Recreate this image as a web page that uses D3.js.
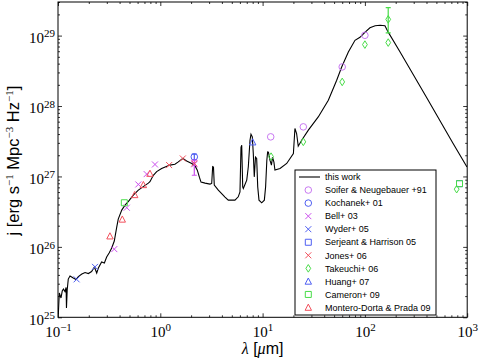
<!DOCTYPE html>
<html>
<head>
<meta charset="utf-8">
<script src="https://cdn.jsdelivr.net/npm/d3@7"></script>
<style>
  body { margin: 0; background: #fff; }
  svg { display: block; }
</style>
</head>
<body>
<div id="chart"></div>
<script>
// model SED ("this work"), wavelength in micron and j in erg s^-1 Mpc^-3 Hz^-1
const curveLam = [0.1007, 0.103, 0.107, 0.110, 0.113, 0.117, 0.120, 0.121, 0.123, 0.126,
  0.131, 0.136, 0.141, 0.150, 0.158, 0.171, 0.184, 0.198, 0.213, 0.227,
  0.239, 0.248, 0.267, 0.284, 0.299, 0.316, 0.335, 0.355, 0.375, 0.388,
  0.420, 0.452, 0.486, 0.545, 0.610, 0.682, 0.764, 0.792, 0.855, 0.922,
  1.03, 1.16, 1.24, 1.39, 1.50, 1.66, 1.81, 2.03, 2.18, 2.30,
  2.41, 2.50, 2.74, 3.06, 3.18, 3.25, 3.31, 3.37, 3.69, 3.98,
  4.29, 4.62, 5.37, 5.78, 6.01, 6.15, 6.25, 6.39, 6.48, 7.00,
  7.25, 7.53, 7.70, 7.93, 8.11, 8.29, 8.52, 8.75, 8.96, 9.22,
  9.80, 10.4, 10.7, 11.0, 11.2, 11.4, 11.8, 12.2, 12.5, 12.9,
  13.2, 14.8, 17.2, 20.0, 20.7, 21.5, 22.3, 24.1, 28.0, 35.0,
  43.9, 53.0, 59.3, 68.9, 80.0, 89.5, 100, 112, 126, 141,
  157, 169, 220, 405, 726, 995];
const curveJ = [1.11e25, 2.21e25, 1.88e25, 2.36e25, 2.52e25, 2.32e25, 2.65e25, 1.36e25, 2.44e25, 3.49e25,
  3.85e25, 3.73e25, 3.61e25, 3.44e25, 3.79e25, 4.11e25, 4.32e25, 4.18e25, 4.46e25, 5.17e25,
  4.25e25, 5.00e25, 6.09e25, 5.89e25, 7.17e25, 8.17e25, 9.62e25, 1.21e26, 1.91e26, 2.48e26,
  3.33e26, 3.92e26, 4.39e26, 5.43e26, 6.39e26, 7.17e26, 8.04e26, 8.44e26, 1.04e27, 1.17e27,
  1.30e27, 1.40e27, 1.45e27, 1.49e27, 1.61e27, 1.80e27, 1.66e27, 1.53e27, 1.42e27, 1.23e27,
  9.77e26, 8.30e26, 8.04e26, 7.78e26, 7.96e26, 1.38e27, 1.36e27, 7.53e26, 6.39e26, 5.70e26,
  5.09e26, 4.61e26, 4.61e26, 5.14e26, 6.05e26, 2.60e27, 2.78e27, 7.12e26, 6.76e26, 8.87e26,
  1.37e27, 3.27e27, 3.98e27, 3.65e27, 2.12e27, 9.87e26, 1.88e27, 1.80e27, 7.12e26, 4.61e26,
  4.22e26, 4.61e26, 7.12e26, 1.70e27, 2.23e27, 2.21e27, 1.70e27, 1.45e27, 1.88e27, 1.60e27,
  1.23e27, 1.30e27, 1.53e27, 2.12e27, 4.80e27, 4.07e27, 2.69e27, 3.27e27, 4.54e27, 7.00e27,
  1.21e28, 2.32e28, 3.59e28, 5.85e28, 8.57e28, 9.46e28, 1.11e29, 1.29e29, 1.38e29, 1.40e29,
  1.38e29, 1.12e29, 5.89e28, 1.29e28, 2.97e27, 1.36e27];

// observations
const soiferLam = [12, 25, 60, 100];
const soiferJ = [3.65e27, 5.06e27, 3.59e28, 1.01e29];
const kochanekLam = [2.15];
const kochanekJ = [1.90e27];
const kochanekLo = [1.74e27];
const kochanekHi = [2.08e27];
const bellLam = [0.355, 0.47, 0.61, 0.736, 0.887, 2.15];
const bellJ = [9.3e25, 3.6e26, 7.7e26, 1.08e27, 1.48e27, 1.49e27];
const bellLo = [null, null, null, null, null, 1.04e27];
const bellHi = [null, null, null, null, null, 1.70e27];
const wyderLam = [0.152, 0.23];
const wyderJ = [3.46e25, 5.2e25];
const serjeantLam = [841];
const serjeantJ = [7.9e26];
const jonesLam = [1.22, 1.66, 2.15];
const jonesJ = [1.45e27, 1.80e27, 1.53e27];
const takeuchiLam = [12.1, 25, 60, 100, 169, 789, 169];
const takeuchiJ = [1.91e27, 3.1e27, 2.2e28, 7.45e28, 7.96e28, 6.6e26, 1.70e29];
const takeuchiLo = [null, null, null, null, null, null, 1.09e29];
const takeuchiHi = [null, null, null, null, null, null, 2.49e29];
const huangLam = [8.0];
const huangJ = [3.07e27];
const cameronLam = [0.445, 841];
const cameronJ = [4.23e26, 7.9e26];
const monteroLam = [0.322, 0.425, 0.562, 0.683, 0.792];
const monteroJ = [1.42e26, 2.46e26, 5.48e26, 7.6e26, 1.10e27];

const xTicks = [0.1, 1, 10, 100, 1000];
const yTicks = [1e25, 1e26, 1e27, 1e28, 1e29];

const violet = "#c979f2", magenta = "#cc4fee", blue = "#4f5ff2", red = "#f2505c", green = "#48dc48";

const series = [
  {name: "Soifer & Neugebauer +91", shape: "circle", color: violet, lam: soiferLam, j: soiferJ},
  {name: "Kochanek+ 01", shape: "circle", color: blue, lam: kochanekLam, j: kochanekJ, lo: kochanekLo, hi: kochanekHi},
  {name: "Bell+ 03", shape: "x", color: magenta, lam: bellLam, j: bellJ, lo: bellLo, hi: bellHi},
  {name: "Wyder+ 05", shape: "x", color: blue, lam: wyderLam, j: wyderJ},
  {name: "Serjeant & Harrison 05", shape: "square", color: blue, lam: serjeantLam, j: serjeantJ},
  {name: "Jones+ 06", shape: "x", color: red, lam: jonesLam, j: jonesJ},
  {name: "Takeuchi+ 06", shape: "diamond", color: green, lam: takeuchiLam, j: takeuchiJ, lo: takeuchiLo, hi: takeuchiHi},
  {name: "Huang+ 07", shape: "triangle", color: blue, lam: huangLam, j: huangJ},
  {name: "Cameron+ 09", shape: "square", color: green, lam: cameronLam, j: cameronJ},
  {name: "Montero-Dorta & Prada 09", shape: "triangle", color: red, lam: monteroLam, j: monteroJ}
];

// set the dimensions and margins of the graph
const W = 480, H = 359;
const margin = {top: 2, right: 12.8, bottom: 41.7, left: 58};
const width = W - margin.left - margin.right,
      height = H - margin.top - margin.bottom;

const svg = d3.select("#chart")
  .append("svg")
    .attr("width", W)
    .attr("height", H)
  .append("g")
    .attr("transform", `translate(${margin.left},${margin.top})`);

const x = d3.scaleLog().domain([0.1, 1000]).range([0, width]);
const y = d3.scaleLog().domain([1e25, 3e29]).range([height, 0]);

// minor ticks 2..9 in every decade
const xMinor = [], yMinor = [];
xTicks.slice(0, -1).forEach(d => { for (let k = 2; k < 10; k++) xMinor.push(d * k); });
yTicks.forEach(d => { for (let k = 2; k < 10; k++) if (d * k <= 3e29) yMinor.push(d * k); });

const serif = "'Liberation Serif', 'DejaVu Serif', serif";
const sans = "'Liberation Sans', Arial, sans-serif";

function supLabel(sel) {
  sel.text(null);
  sel.append("tspan").text("10");
  sel.append("tspan")
    .attr("dy", "-0.5em")
    .style("font-size", "11px")
    .text(d => String(Math.round(Math.log10(d))).replace("-", "\u2212"));
}

function addAxis(axisFn, scale, ticks, minor, transform, labels) {
  const g = svg.append("g").attr("transform", transform);
  g.call(axisFn(scale).tickValues(ticks).tickSize(-4).tickSizeOuter(0)
    .tickPadding(axisFn === d3.axisBottom ? 9 : 3).tickFormat(() => ""));
  const gm = svg.append("g").attr("transform", transform);
  gm.call(axisFn(scale).tickValues(minor).tickSize(-2).tickSizeOuter(0).tickFormat(() => ""));
  [g, gm].forEach(a => {
    a.select(".domain").remove();
    a.selectAll("line").attr("stroke", "#000").attr("stroke-width", 0.8);
  });
  if (labels) {
    g.selectAll(".tick text")
      .style("font-family", serif)
      .style("font-size", "15px")
      .attr("fill", "#000")
      .call(supLabel);
    if (axisFn === d3.axisLeft) g.selectAll(".tick text").attr("dy", "0.45em");
  }
}

addAxis(d3.axisBottom, x, xTicks, xMinor, `translate(0,${height})`, true);
addAxis(d3.axisTop, x, xTicks, xMinor, "translate(0,0)", false);
addAxis(d3.axisLeft, y, yTicks, yMinor, "translate(0,0)", true);
addAxis(d3.axisRight, y, yTicks, yMinor, `translate(${width},0)`, false);

// frame
svg.append("rect")
  .attr("width", width)
  .attr("height", height)
  .attr("fill", "none")
  .attr("stroke", "#000")
  .attr("stroke-width", 1);

// axis titles
svg.append("text")
  .attr("x", width / 2)
  .attr("y", 354 - margin.top)
  .attr("text-anchor", "middle")
  .style("font-size", "16px")
  .style("font-family", sans)
  .call(t => {
    t.append("tspan").style("font-family", serif).style("font-style", "italic").text("\u03bb");
    t.append("tspan").text(" [");
    t.append("tspan").style("font-family", serif).style("font-style", "italic").text("\u03bc");
    t.append("tspan").text("m]");
  });

svg.append("text")
  .attr("transform", `translate(${19 - margin.left},${height / 2 + 1}) rotate(-90)`)
  .attr("text-anchor", "middle")
  .style("font-size", "16.5px")
  .style("font-family", sans)
  .call(t => {
    const sup = s => t.append("tspan").attr("dy", -6.5).style("font-size", "11px").style("font-family", serif).text(s);
    const txt = s => t.append("tspan").attr("dy", 6.5).text(s);
    t.append("tspan").text("j [erg s");
    sup("\u22121");
    txt(" Mpc");
    sup("\u22123");
    txt(" Hz");
    sup("\u22121");
    txt("]");
  });

// model line
svg.append("clipPath").attr("id", "clip")
  .append("rect").attr("width", width).attr("height", height);

const curve = curveLam.map((d, i) => ({lam: d, j: curveJ[i]}));
const line = d3.line().x(d => x(d.lam)).y(d => y(d.j));
svg.append("path")
  .datum(curve)
  .attr("clip-path", "url(#clip)")
  .attr("d", line)
  .attr("fill", "none")
  .attr("stroke", "#000")
  .attr("stroke-width", 1.1);

// marker shapes (unfilled, coloured edge)
function markerPath(shape) {
  switch (shape) {
    case "circle": return d3.symbol(d3.symbolCircle, 34)();
    case "square": return "M-3,-3H3V3H-3Z";
    case "triangle": return "M0,-3.4L3.2,2.8H-3.2Z";
    case "diamond": return "M0,-3.8L2.4,0L0,3.8L-2.4,0Z";
    case "x": return "M-3,-3L3,3M-3,3L3,-3";
  }
}

series.forEach(s => {
  const pts = s.lam.map((d, i) => ({lam: d, j: s.j[i], lo: s.lo ? s.lo[i] : null, hi: s.hi ? s.hi[i] : null}));
  const g = svg.append("g");
  // error bars
  pts.filter(d => d.lo != null).forEach(d => {
    const cx = x(d.lam);
    g.append("path")
      .attr("d", `M${cx},${y(d.lo)}V${y(d.hi)}M${cx - 2.5},${y(d.lo)}H${cx + 2.5}M${cx - 2.5},${y(d.hi)}H${cx + 2.5}`)
      .attr("stroke", s.color)
      .attr("stroke-width", 1.2)
      .attr("fill", "none");
  });
  g.selectAll("path.pt")
    .data(pts)
    .join("path")
      .attr("class", "pt")
      .attr("transform", d => `translate(${x(d.lam)},${y(d.j)})`)
      .attr("d", markerPath(s.shape))
      .attr("fill", "none")
      .attr("stroke", s.color)
      .attr("stroke-width", 1);
});

// legend
const lx = 295 - margin.left, ly = 170 - margin.top, rowH = 13.05;
const legend = svg.append("g").attr("transform", `translate(${lx},${ly})`);
legend.append("rect")
  .attr("width", 141)
  .attr("height", 145)
  .attr("fill", "#fff")
  .attr("stroke", "#000")
  .attr("stroke-width", 1);

const entries = [{name: "this work", shape: "line"}].concat(series);
const rows = legend.selectAll("g.row")
  .data(entries)
  .join("g")
    .attr("class", "row")
    .attr("transform", (d, i) => `translate(0,${7 + i * rowH})`);

rows.filter(d => d.shape === "line")
  .append("line")
    .attr("x1", 4).attr("x2", 25)
    .attr("stroke", "#000").attr("stroke-width", 1.1);

rows.filter(d => d.shape !== "line")
  .append("path")
    .attr("transform", "translate(13.3,0)")
    .attr("d", d => markerPath(d.shape))
    .attr("fill", "none")
    .attr("stroke", d => d.color)
    .attr("stroke-width", 1);

rows.append("text")
  .attr("x", 30)
  .attr("y", 3.2)
  .style("font-family", sans)
  .style("font-size", "9px")
  .text(d => d.name);
</script>
</body>
</html>
